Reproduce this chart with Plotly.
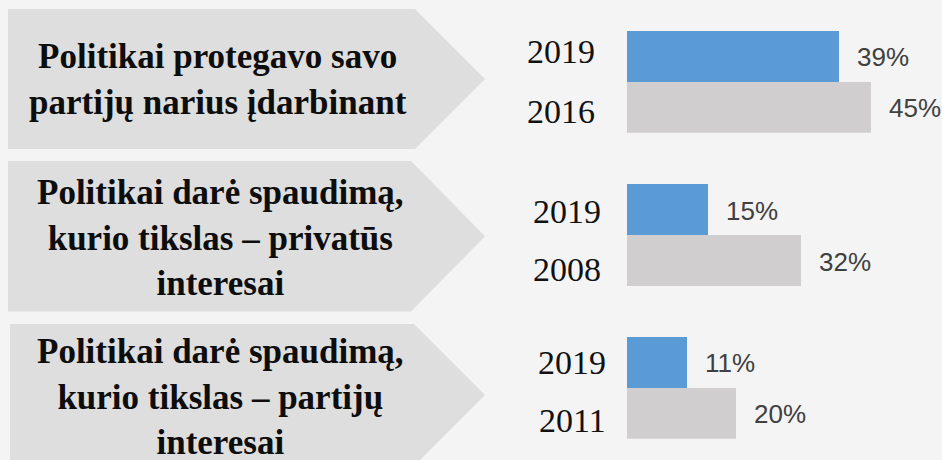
import plotly.graph_objects as go

# ---- data ----
statements = [
    "Politikai protegavo savo<br>partijų narius įdarbinant",
    "Politikai darė spaudimą,<br>kurio tikslas – privatūs<br>interesai",
    "Politikai darė spaudimą,<br>kurio tikslas – partijų<br>interesai",
]
years_current = ["2019", "2019", "2019"]
years_previous = ["2016", "2008", "2011"]
values_current = [39, 15, 11]
values_previous = [45, 32, 20]

# ---- styling ----
W, H = 942, 460
BG = "#f4f4f4"
CHEVRON = "#dedede"
BLUE = "#5b9bd5"
GREY = "#d0cece"

def px(x):
    return x / W

def py(y):
    return 1 - y / H

# bar area geometry (pixels)
bar_left = 627
px_per_pct = 5.43
panel_bar_tops = [30.7, 184.0, 336.7]
bar_h = 51.0
chevrons = [  # left, top, slant start, tip x, bottom
    (8, 9, 415, 485, 149),
    (8, 161, 411, 485, 311.5),
    (10, 324, 414, 485, 466),
]
text_centers = [(218, 79), (220, 238), (220, 397)]
year_right = [597, 603, 608]
year_shift = [(5, -4), (-2, -9), (0, -7)]

fig = go.Figure()
layout = dict(
    width=W, height=H,
    margin=dict(l=0, r=0, t=0, b=0),
    paper_bgcolor=BG, plot_bgcolor=BG,
    showlegend=False, bargap=0,
)
annotations = []
shapes = []

for i in range(3):
    n = "" if i == 0 else str(i + 1)
    cats = [years_current[i], years_previous[i]]
    vals = [values_current[i], values_previous[i]]
    fig.add_trace(go.Bar(
        x=vals,
        y=cats,
        orientation="h",
        marker=dict(color=[BLUE, GREY], line=dict(width=0)),
        xaxis="x" + n, yaxis="y" + n,
        hoverinfo="skip",
    ))
    top = panel_bar_tops[i]
    layout["xaxis" + n] = dict(
        domain=[px(bar_left), 1], range=[0, (W - bar_left) / px_per_pct],
        visible=False, fixedrange=True, anchor="y" + n,
    )
    layout["yaxis" + n] = dict(
        domain=[py(top + 2 * bar_h), py(top)], type="category",
        categoryorder="array", categoryarray=cats, range=[1.5, -0.5],
        visible=False, fixedrange=True, anchor="x" + n,
    )
    for k, (cat, v) in enumerate(zip(cats, vals)):
        # value label
        annotations.append(dict(
            x=v, y=k, xref="x" + n, yref="y" + n,
            xanchor="left", yanchor="middle", xshift=16, yshift=-1,
            text=f"{v}%", showarrow=False,
            font=dict(family="Liberation Sans, Arial, sans-serif", size=26, color="#404040"),
        ))
        # year label
        annotations.append(dict(
            x=px(year_right[i]), y=k, xref="paper", yref="y" + n,
            xanchor="right", yanchor="middle", yshift=year_shift[i][k],
            text=cat, showarrow=False,
            font=dict(family="Liberation Serif, Times New Roman, serif", size=34, color="#111111"),
        ))
    # chevron
    l, t, s, tip, b = chevrons[i]
    mid = (t + b) / 2
    path = (f"M {px(l)} {py(t)} L {px(s)} {py(t)} L {px(tip)} {py(mid)} "
            f"L {px(s)} {py(b)} L {px(l)} {py(b)} Z")
    shapes.append(dict(type="path", path=path, xref="paper", yref="paper",
                       fillcolor=CHEVRON, line=dict(width=0), layer="below"))
    cx, cy = text_centers[i]
    annotations.append(dict(
        x=px(cx), y=py(cy), xref="paper", yref="paper",
        xanchor="center", yanchor="middle", align="center",
        text=f"<b>{statements[i]}</b>", showarrow=False,
        font=dict(family="Liberation Serif, Times New Roman, serif", size=35, color="#0d0d0d"),
    ))

layout["annotations"] = annotations
layout["shapes"] = shapes
fig.update_layout(**layout)
fig.write_html(
    "out.html",
    config={"displayModeBar": False},
    post_script="document.body.style.margin='0';document.body.style.background='#f4f4f4';",
)
